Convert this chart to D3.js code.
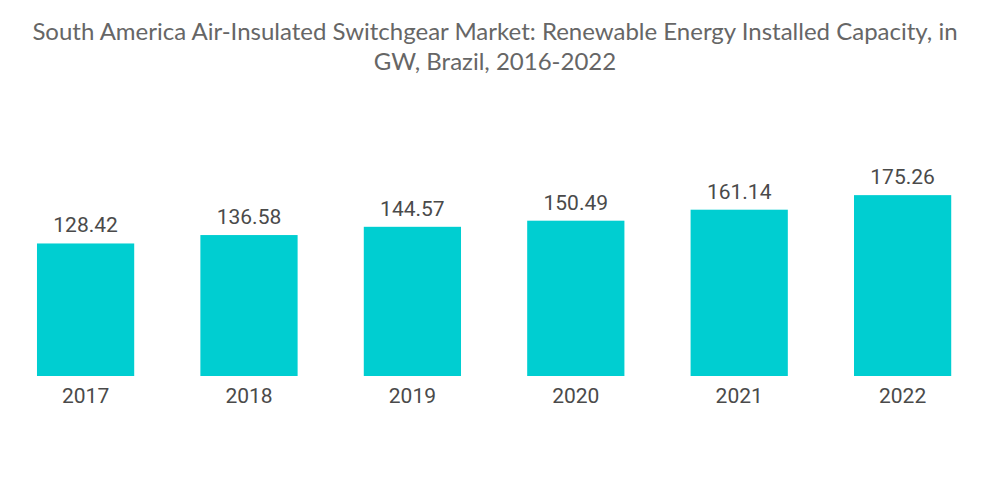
<!DOCTYPE html>
<html>
<head>
<meta charset="utf-8">
<script src="https://cdn.jsdelivr.net/npm/d3@7"></script>
<style>
  body { margin: 0; background: #fff; }
  svg { display: block; }
</style>
</head>
<body>
<svg id="chart" width="1000" height="504"></svg>
<script>
const years = ['2017', '2018', '2019', '2020', '2021', '2022'];
const capacity = [128.42, 136.58, 144.57, 150.49, 161.14, 175.26];
const titleLines = [
  'South America Air-Insulated Switchgear Market: Renewable Energy Installed Capacity, in',
  'GW, Brazil, 2016-2022',
];

const svg = d3.select('#chart');
const cs = {
  barFill: '#00ced1',
  text: '#4a4a4a',
  title: '#666',
  baseline: 376,
};

const x = d3.scaleBand()
  .domain(years)
  .range([4.3, 983.9])
  .paddingInner(0.405)
  .paddingOuter(0.2);

const y = d3.scaleLinear()
  .domain([0, 200])
  .range([cs.baseline, cs.baseline - 206.4]);

// title
svg.append('text')
  .attr('x', 495)
  .attr('y', 40)
  .attr('text-anchor', 'middle')
  .attr('font-family', 'Lato, sans-serif')
  .attr('font-size', 24)
  .attr('fill', cs.title)
  .selectAll('tspan')
  .data(titleLines)
  .join('tspan')
  .attr('x', 495)
  .attr('dy', (d, i) => (i === 0 ? 0 : 30))
  .text(d => d);

const data = years.map((yr, i) => ({ yr, v: capacity[i] }));

svg.selectAll('rect.bar')
  .data(data)
  .join('rect')
  .attr('class', 'bar')
  .attr('x', d => x(d.yr))
  .attr('width', x.bandwidth())
  .attr('y', d => y(d.v))
  .attr('height', d => y(0) - y(d.v))
  .attr('fill', cs.barFill);

svg.selectAll('text.value')
  .data(data)
  .join('text')
  .attr('class', 'value')
  .attr('x', d => x(d.yr) + x.bandwidth() / 2)
  .attr('y', d => y(d.v) - 11)
  .attr('text-anchor', 'middle')
  .attr('font-family', 'Roboto, sans-serif')
  .attr('font-size', 21)
  .attr('fill', cs.text)
  .text(d => d.v.toFixed(2));

const xAxis = d3.axisBottom(x).tickSize(0).tickPadding(12);
svg.append('g')
  .attr('transform', `translate(0,${cs.baseline})`)
  .call(xAxis)
  .call(g => g.select('.domain').remove())
  .call(g => g.selectAll('text')
    .attr('font-family', 'Roboto, sans-serif')
    .attr('font-size', 21)
    .attr('fill', cs.text));
</script>
</body>
</html>
